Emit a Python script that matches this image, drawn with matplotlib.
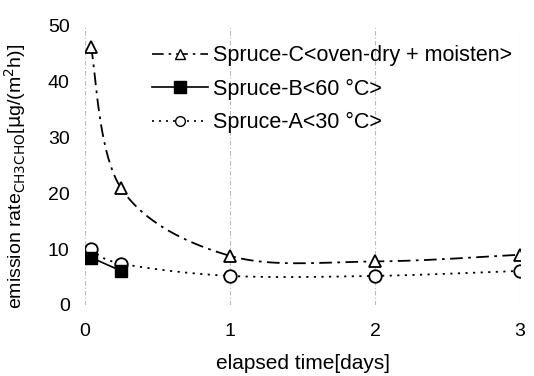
import numpy as np
import matplotlib
matplotlib.use("Agg")
import matplotlib.pyplot as plt
from matplotlib.lines import Line2D

plt.rcParams['font.family'] = ['Liberation Sans', 'DejaVu Sans']

days_c = [1/24, 6/24, 1, 2, 3]
spruce_c = [46.3, 20.9, 8.8, 7.8, 9.0]
days_b = [1/24, 6/24]
spruce_b = [8.5, 6.1]
days_a = [1/24, 6/24, 1, 2, 3]
spruce_a = [10.0, 7.4, 5.2, 5.2, 6.1]

labels = ['Spruce-C<oven-dry + moisten>', 'Spruce-B<60 \u00b0C>', 'Spruce-A<30 \u00b0C>']


def smooth(x, y, n=40):
    x = np.asarray(x, float); y = np.asarray(y, float)
    px, py = [], []
    m = len(x)
    for i in range(m - 1):
        x0, y0 = x[i], y[i]
        x3, y3 = x[i + 1], y[i + 1]
        xm, ym = (x[i - 1], y[i - 1]) if i > 0 else (x0, y0)
        xp, yp = (x[i + 2], y[i + 2]) if i + 2 < m else (x3, y3)
        x1 = x0 + (x3 - xm) / 6; y1 = y0 + (y3 - ym) / 6
        x2 = x3 - (xp - x0) / 6; y2 = y3 - (yp - y0) / 6
        t = np.linspace(0, 1, n)
        bx = (1-t)**3*x0 + 3*(1-t)**2*t*x1 + 3*(1-t)*t**2*x2 + t**3*x3
        by = (1-t)**3*y0 + 3*(1-t)**2*t*y1 + 3*(1-t)*t**2*y2 + t**3*y3
        px.extend(bx); py.extend(by)
    return np.array(px), np.array(py)


fig = plt.figure(figsize=(5.34, 3.76), dpi=100)
ax = fig.add_axes([0.159, 0.189, 0.815, 0.742])

ls_c = (0, (7, 3, 1.5, 3))
ls_a = (0, (1.2, 3))
sx, sy = smooth(days_c, spruce_c)
ax.plot(sx, sy, color='black', lw=1.3, ls=ls_c, zorder=3)
ax.plot(days_c, spruce_c, ls='none', marker='^', ms=9, mfc='white', mec='black', mew=1.3, zorder=4)

sx, sy = smooth(days_a, spruce_a)
ax.plot(sx, sy, color='black', lw=1.3, ls=ls_a, zorder=3)
ax.plot(days_a, spruce_a, ls='none', marker='o', ms=9, mfc='white', mec='black', mew=1.3, zorder=4)

sx, sy = smooth(days_b, spruce_b)
ax.plot(sx, sy, color='black', lw=1.2, ls='-', zorder=3)
ax.plot(days_b, spruce_b, ls='none', marker='s', ms=9, mfc='black', mec='black', zorder=5)

ax.set_xlim(0, 3)
ax.set_ylim(0, 50)
ax.set_xticks([0, 1, 2, 3])
ax.set_yticks([0, 10, 20, 30, 40, 50])
ax.tick_params(axis='x', length=0, labelsize=14, pad=13)
ax.tick_params(axis='y', length=0, labelsize=14, pad=11)
for s in ax.spines.values():
    s.set_visible(False)
ax.grid(axis='x', color='#bbbbbb', lw=0.8, ls=(0, (4, 2, 1, 2)))
ax.set_axisbelow(True)

ax.set_xlabel('elapsed time[days]', fontsize=15, labelpad=10)
ax.set_ylabel(r'emission rate$_{\mathrm{CH3CHO}}$[$\mathrm{\mu}$g/(m$^{2}$h)]', fontsize=14, labelpad=8)
ax.yaxis.set_label_coords(-0.13, 0.46)

handles = [
    Line2D([], [], color='black', lw=1.2, ls=ls_c, marker='^', ms=7, mfc='white', mec='black'),
    Line2D([], [], color='black', lw=1.2, ls='-', marker='s', ms=8, mfc='black', mec='black'),
    Line2D([], [], color='black', lw=1.2, ls=ls_a, marker='o', ms=7, mfc='white', mec='black'),
]
ax.legend(handles, labels, loc='upper right', bbox_to_anchor=(1.016, 0.985), frameon=False,
          fontsize=15.5, handlelength=2.6, handletextpad=0.25, labelspacing=0.58, borderaxespad=0.3)

fig.savefig('out.png', dpi=100)
